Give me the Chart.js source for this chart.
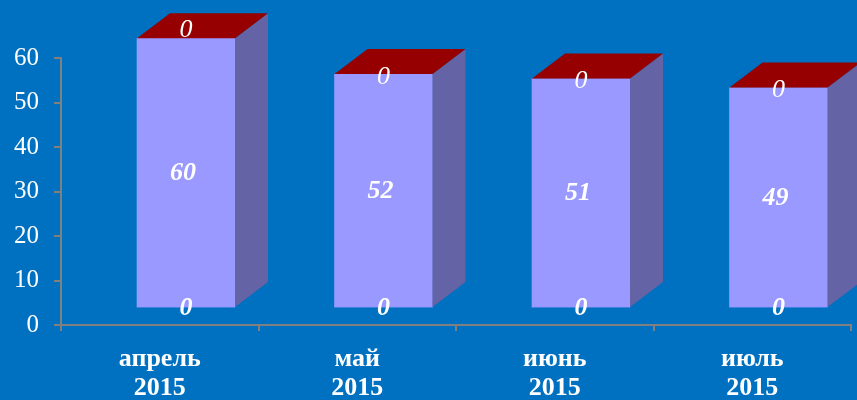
<!DOCTYPE html>
<html lang="ru">
<head>
  <meta charset="UTF-8" />
  <title>Bars 2015</title>
  <script src="https://cdn.jsdelivr.net/npm/chart.js"></script>
  <style>
    html, body { margin: 0; padding: 0; background: #0070C0; }
    #wrap { width: 857px; height: 400px; }
  </style>
</head>
<body>
  <div id="wrap"><canvas id="chart"></canvas></div>
  <script>
    const months = [['апрель', '2015'], ['май', '2015'], ['июнь', '2015'], ['июль', '2015']];
    const bottomValues = [0, 0, 0, 0];
    const mainValues = [60, 52, 51, 49];
    const topValues = [0, 0, 0, 0];
    const yTicks = [0, 10, 20, 30, 40, 50, 60];

    // depth of the fake 3d boxes
    const DX = 33, DY = -25;
    const serif = "'Liberation Serif', 'Times New Roman', serif";

    const toPoints = vals => vals.map((v, i) => ({ x: i, y: v }));

    const box3d = {
      id: 'box3d',
      afterDatasetsDraw(chart) {
        const ctx = chart.ctx;
        const area = chart.chartArea;
        ctx.save();
        chart.data.datasets.forEach((ds, di) => {
          chart.getDatasetMeta(di).data.forEach(bar => {
            const l = bar.x - bar.width / 2, r = bar.x + bar.width / 2;
            const t = Math.min(bar.y, bar.base), b = Math.max(bar.y, bar.base);
            if (b - t > 0.5 && ds.sideColor) {
              ctx.fillStyle = ds.sideColor;
              ctx.beginPath();
              ctx.moveTo(r, t); ctx.lineTo(r + DX, t + DY);
              ctx.lineTo(r + DX, b + DY); ctx.lineTo(r, b);
              ctx.closePath(); ctx.fill();
            }
            if (ds.topColor) {
              ctx.fillStyle = ds.topColor;
              ctx.beginPath();
              ctx.moveTo(l, t); ctx.lineTo(l + DX, t + DY);
              ctx.lineTo(r + DX, t + DY); ctx.lineTo(r, t);
              ctx.closePath(); ctx.fill();
            }
          });
        });
        // value labels
        ctx.fillStyle = '#ffffff';
        ctx.textAlign = 'center';
        ctx.textBaseline = 'middle';
        chart.data.datasets.forEach((ds, di) => {
          ctx.font = ds.labelFont;
          chart.getDatasetMeta(di).data.forEach((bar, i) => {
            const v = ds.data[i].y;
            let y, x = bar.x;
            if (ds.labelAt === 'base') y = bar.base;
            else if (ds.labelAt === 'top') y = bar.y < area.top ? bar.y - 9 : bar.y + 2;
            else { y = (bar.y + bar.base) / 2; x -= 3; }
            ctx.fillText(String(v), x, y + 1);
          });
        });
        ctx.restore();
      }
    };

    const common = { xAxisID: 'xBar', yAxisID: 'yBar', clip: false, borderWidth: 0,
                     barThickness: 98 };

    new Chart(document.getElementById('chart'), {
      type: 'bar',
      data: {
        labels: months,
        datasets: [
          Object.assign({ label: 'низ', data: toPoints(bottomValues), backgroundColor: '#9999FF',
            sideColor: '#6363A5', labelAt: 'base', labelFont: 'italic bold 26px ' + serif }, common),
          Object.assign({ label: 'значение', data: toPoints(mainValues), backgroundColor: '#9999FF',
            sideColor: '#6363A5', labelAt: 'middle', labelFont: 'italic bold 26px ' + serif }, common),
          Object.assign({ label: 'верх', data: toPoints(topValues), backgroundColor: '#960000',
            topColor: '#960000', labelAt: 'top', labelFont: 'italic 26px ' + serif }, common)
        ]
      },
      options: {
        responsive: true,
        maintainAspectRatio: false,
        animation: false,
        layout: { padding: { top: 58, right: 6, left: 0, bottom: 0 } },
        plugins: { legend: { display: false }, tooltip: { enabled: false } },
        scales: {
          x: {
            type: 'category',
            offset: true,
            grid: { offset: true, drawOnChartArea: false, drawTicks: true, tickLength: 6, color: '#808080', lineWidth: 2 },
            border: { color: '#808080', width: 2 },
            ticks: { color: '#ffffff', padding: 14, maxRotation: 0,
                     font: { family: serif, size: 26, weight: 'bold', lineHeight: 1.1 } },
            afterFit: s => { s.height = 75; }
          },
          y: {
            position: 'left',
            min: yTicks[0],
            max: yTicks[yTicks.length - 1],
            ticks: { stepSize: yTicks[1] - yTicks[0], color: '#ffffff', padding: 15,
                     font: { family: serif, size: 25 } },
            grid: { drawOnChartArea: false, drawTicks: true, tickLength: 7, color: '#808080', lineWidth: 2 },
            border: { color: '#808080', width: 2 },
            afterFit: s => { s.width = 61; }
          },
          xBar: { type: 'linear', display: false, stacked: true, offset: false,
                  grid: { offset: false }, min: -0.633, max: 3.367 },
          yBar: { type: 'linear', display: false, stacked: true, min: -4.02, max: 55.58 }
        }
      },
      plugins: [box3d]
    });
  </script>
</body>
</html>
